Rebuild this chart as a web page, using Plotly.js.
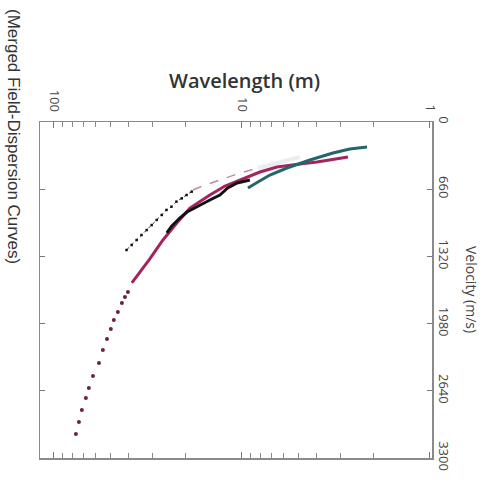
<!DOCTYPE html>
<html>
<head>
<meta charset="utf-8">
<script src="https://cdn.plot.ly/plotly-3.0.1.min.js"></script>
<style>
html,body{margin:0;padding:0;background:#fff;}
#chart{width:490px;height:487px;}
</style>
</head>
<body>
<div id="chart"></div>
<script>
// Axis ticks
const wavelengthTicks = [1, 10, 100];
const wavelengthTickText = ['1', '10', '100'];
const wavelengthMinor = [2,3,4,5,6,7,8,9,20,30,40,50,60,70,80,90];
const velocityTicks = [0, 660, 1320, 1980, 2640, 3300];
const velocityTickText = ['0', '660', '1320', '1980', '2640', '3300'];

// Teal curve
const tealWavelength = [2.16, 2.67, 3.28, 4.35, 5.76, 7.10, 8.22, 9.29];
const tealVelocity   = [246, 265, 304, 373, 452, 521, 589, 648];

// Magenta curve
const magentaWavelength = [2.73, 3.99, 4.92, 6.51, 8.02, 10.25, 12.3, 14.8, 18.9, 22.2, 26.3, 30.9, 34.9, 38.5];
const magentaVelocity   = [344, 393, 412, 442, 491, 570, 629, 717, 845, 992, 1159, 1345, 1473, 1581];

// Magenta dotted extension
const dotsWavelength = [40.4, 41.9, 43.5, 45.7, 48.0, 49.8, 52.2, 54.9, 57.6, 62.0, 65.2, 67.6, 71.0, 73.6, 76.4];
const dotsVelocity   = [1670, 1719, 1778, 1866, 1945, 2033, 2131, 2239, 2367, 2495, 2612, 2711, 2829, 2946, 3064];

// Black solid curve
const blackWavelength = [9.07, 10.6, 11.9, 13.1, 14.8, 17.4, 19.6, 21.4, 23.6, 25.1];
const blackVelocity   = [570, 599, 648, 717, 766, 835, 884, 943, 1021, 1090];

// Black dotted curve
const dottedWavelength = [18.5, 19.7, 20.9, 22.3, 23.7, 25.2, 26.7, 28.4, 30.2, 32.1, 34.2, 36.3, 38.6, 41.1];
const dottedVelocity   = [684, 717, 750, 782, 832, 864, 913, 962, 1012, 1061, 1110, 1159, 1208, 1257];

// Pink dashed curve
const pinkWavelength = [18.2, 16.7, 13.1, 10.25, 8.22];
const pinkVelocity   = [668, 638, 570, 501, 452];

// Light grey curve
const greyWavelength = [8.22, 6.28, 4.92];
const greyVelocity   = [452, 393, 344];

const traces = [
  {x: greyWavelength, y: greyVelocity, mode: 'lines', line: {color: '#ededed', width: 4}, hoverinfo: 'skip'},
  {x: pinkWavelength, y: pinkVelocity, mode: 'lines', line: {color: '#c58aa0', width: 1.5, dash: 'dash'}},
  {x: dottedWavelength, y: dottedVelocity, mode: 'lines+markers', line: {color: '#333', width: 1, dash: 'dot'}, marker: {color: '#111', size: 2.5, symbol: 'square'}},
  {x: dotsWavelength, y: dotsVelocity, mode: 'markers', marker: {color: '#6a2241', size: 4}},
  {x: magentaWavelength, y: magentaVelocity, mode: 'lines', line: {color: '#a3245e', width: 3}},
  {x: blackWavelength, y: blackVelocity, mode: 'lines', line: {color: '#111', width: 3}},
  {x: tealWavelength, y: tealVelocity, mode: 'lines', line: {color: '#24676a', width: 3}}
];

const W = 392, H = 336, L = 40, T = 122;
function px(x){ return (x - L) / W; }
function py(y){ return (T + H - y) / H; }

const layout = {
  width: 490, height: 487,
  margin: {l: 40, r: 58, t: 122, b: 29},
  paper_bgcolor: '#fff', plot_bgcolor: '#fff',
  showlegend: false,
  font: {family: 'Open Sans, sans-serif', color: '#444'},
  xaxis: {
    type: 'log', range: [2.074, -0.011], side: 'top',
    tickvals: wavelengthTicks, ticktext: wavelengthTickText, tickangle: 90,
    tickfont: {size: 13, color: '#444', family: 'Open Sans, sans-serif'},
    ticks: 'inside', ticklen: 6, tickcolor: '#777', tickwidth: 1,
    minor: {tickvals: wavelengthMinor, ticks: 'inside', ticklen: 5, tickcolor: '#888', tickwidth: 1, showgrid: false},
    showline: true, linecolor: '#8a8a8a', linewidth: 1.5, mirror: 'ticks',
    showgrid: false, zeroline: false, ticklabelstandoff: 4
  },
  yaxis: {
    range: [3300, 0], side: 'right',
    tickvals: velocityTicks, ticktext: velocityTickText, tickangle: 90,
    tickfont: {size: 13, color: '#444', family: 'Open Sans, sans-serif'},
    ticks: 'inside', ticklen: 5, tickcolor: '#777', tickwidth: 1,
    showline: true, linecolor: '#8a8a8a', linewidth: 1.5, mirror: 'ticks',
    showgrid: false, zeroline: false
  },
  annotations: [
    {text: 'Wavelength (m)', xref: 'paper', yref: 'paper', x: px(244), y: py(80),
     xanchor: 'center', yanchor: 'middle', showarrow: false,
     font: {size: 20, color: '#333', family: 'Open Sans, sans-serif', weight: 600}},
    {text: 'Velocity (m/s)', xref: 'paper', yref: 'paper', x: px(472), y: py(290),
     xanchor: 'center', yanchor: 'middle', showarrow: false, textangle: 90,
     font: {size: 14, color: '#444', family: 'Open Sans, sans-serif'}},
    {text: '(Merged Field-Dispersion Curves)', xref: 'paper', yref: 'paper', x: px(14), y: py(136),
     xanchor: 'center', yanchor: 'middle', showarrow: false, textangle: 90,
     font: {size: 17, color: '#333', family: 'Liberation Sans, Arial, sans-serif'}}
  ]
};

Plotly.newPlot('chart', traces, layout, {displayModeBar: false, staticPlot: true});
</script>
</body>
</html>
